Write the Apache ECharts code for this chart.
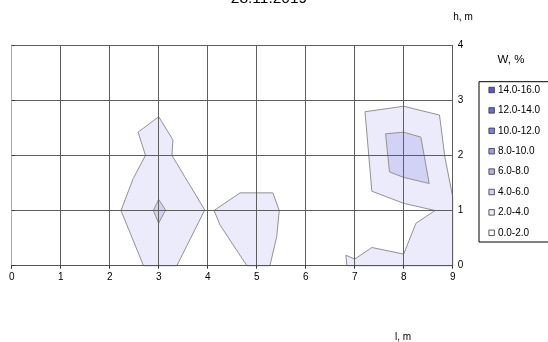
<!DOCTYPE html>
<html>
<head>
<meta charset="utf-8">
<script src="https://cdn.jsdelivr.net/npm/echarts@6/dist/echarts.min.js"></script>
<style>
  html, body { margin: 0; padding: 0; background: #fff; }
  #chart { width: 548px; height: 342px; }
</style>
</head>
<body>
<div id="chart"></div>
<script>
// Axis extents (l, m along x; h, m along y)
const xRange = [0, 9];
const yRange = [0, 4];

// Moisture classes, top of the legend first
const levelNames = ['14.0-16.0', '12.0-14.0', '10.0-12.0', '8.0-10.0', '6.0-8.0', '4.0-6.0', '2.0-4.0', '0.0-2.0'];
const levelColors = ['#5a5ac6', '#6c6cd0', '#8080da', '#9d9de6', '#b2b2ec', '#d2d2f7', '#ebebfc', '#ffffff'];

// Isoline areas, as [l, h] vertices
const band2to4 = [
  [[3.0, 2.70], [3.27, 2.31], [3.29, 2.28], [3.27, 2.0], [3.94, 1.01], [3.37, 0], [2.69, 0], [2.23, 1.0], [2.48, 1.58], [2.73, 2.0], [2.58, 2.42]],
  [[4.13, 1.0], [4.66, 1.32], [5.33, 1.32], [5.46, 1.0], [5.41, 0.53], [5.27, 0], [4.80, 0], [4.25, 0.74]],
  [[7.21, 2.79], [8.0, 2.89], [8.73, 2.73], [8.84, 1.97], [9.0, 1.25], [9.0, 0], [6.84, 0], [6.82, 0.19], [7.0, 0.12], [7.35, 0.33], [8.0, 0.21], [8.25, 0.77], [8.64, 1.0], [8.0, 1.13], [7.35, 1.35]]
];
const band4to6 = [
  [[3.0, 1.20], [3.14, 1.01], [3.0, 0.77], [2.89, 1.0]],
  [[7.63, 2.39], [8.0, 2.42], [8.35, 2.33], [8.52, 1.49], [8.0, 1.60], [7.71, 1.70]]
];

const polysByLevel = { '2.0-4.0': band2to4, '4.0-6.0': band4to6 };

const FONT = 'Liberation Sans, Arial, sans-serif';

function levelSeries(name, color) {
  const polys = polysByLevel[name] || [];
  return {
    type: 'custom',
    name: name,
    coordinateSystem: 'cartesian2d',
    silent: true,
    z: 1,
    itemStyle: { color: color },
    encode: { x: 0, y: 1 },
    data: polys.map(p => [p[0][0], p[0][1]]),
    renderItem: function (params, api) {
      const pts = polys[params.dataIndex].map(pt => api.coord(pt));
      return {
        type: 'polygon',
        shape: { points: pts },
        style: { fill: color, stroke: '#929292', lineWidth: 1 }
      };
    }
  };
}

// Lower classes are painted first so higher ones sit on top
const seriesList = levelNames.map((n, i) => levelSeries(n, levelColors[i])).reverse();

const chart = echarts.init(document.getElementById('chart'), null, { renderer: 'canvas' });

chart.setOption({
  animation: false,
  backgroundColor: '#ffffff',
  textStyle: { fontFamily: FONT },
  grid: { left: 11.7, right: 95.3, top: 45, bottom: 76.3, containLabel: false },
  xAxis: {
    type: 'value',
    min: xRange[0], max: xRange[1], interval: 1,
    z: 5,
    axisLine: { show: true, lineStyle: { color: '#555', width: 1 } },
    axisTick: { show: true, length: 3, lineStyle: { color: '#333' } },
    axisLabel: { margin: 7, color: '#000', fontSize: 10, fontFamily: FONT },
    splitLine: { show: true, lineStyle: { color: '#5e5e5e', width: 1 } }
  },
  yAxis: {
    type: 'value',
    position: 'right',
    min: yRange[0], max: yRange[1], interval: 1,
    z: 5,
    axisLine: { show: true, lineStyle: { color: '#aaa', width: 1 } },
    axisTick: { show: true, length: 3, lineStyle: { color: '#333' } },
    axisLabel: { margin: 5, color: '#000', fontSize: 10, fontFamily: FONT },
    splitLine: { show: true, lineStyle: { color: '#5e5e5e', width: 1 } }
  },
  legend: {
    orient: 'vertical',
    left: 479,
    top: 81.7,
    data: levelNames,
    icon: 'rect',
    itemWidth: 5.5,
    itemHeight: 5.5,
    itemGap: 8.4,
    padding: [2.3, 20, 3.2, 9.5],
    borderColor: '#000',
    borderWidth: 1,
    backgroundColor: '#fff',
    selectedMode: false,
    itemStyle: { borderColor: '#333', borderWidth: 0.8 },
    textStyle: { fontSize: 10, lineHeight: 12, color: '#000', fontFamily: FONT, padding: [0, 0, 0, -1.5] }
  },
  graphic: [
    { type: 'text', x: 269, y: -1, style: { text: '28.11.2019', fontSize: 15.5, fontFamily: FONT, fill: '#000', align: 'center', verticalAlign: 'middle' } },
    { type: 'text', x: 463, y: 17, style: { text: 'h, m', fontSize: 10, fontFamily: FONT, fill: '#000', align: 'center', verticalAlign: 'middle' } },
    { type: 'text', x: 511, y: 60, style: { text: 'W, %', fontSize: 11.5, fontFamily: FONT, fill: '#000', align: 'center', verticalAlign: 'middle' } },
    { type: 'text', x: 403, y: 337, style: { text: 'l, m', fontSize: 10, fontFamily: FONT, fill: '#000', align: 'center', verticalAlign: 'middle' } }
  ],
  series: seriesList
});
</script>
</body>
</html>
